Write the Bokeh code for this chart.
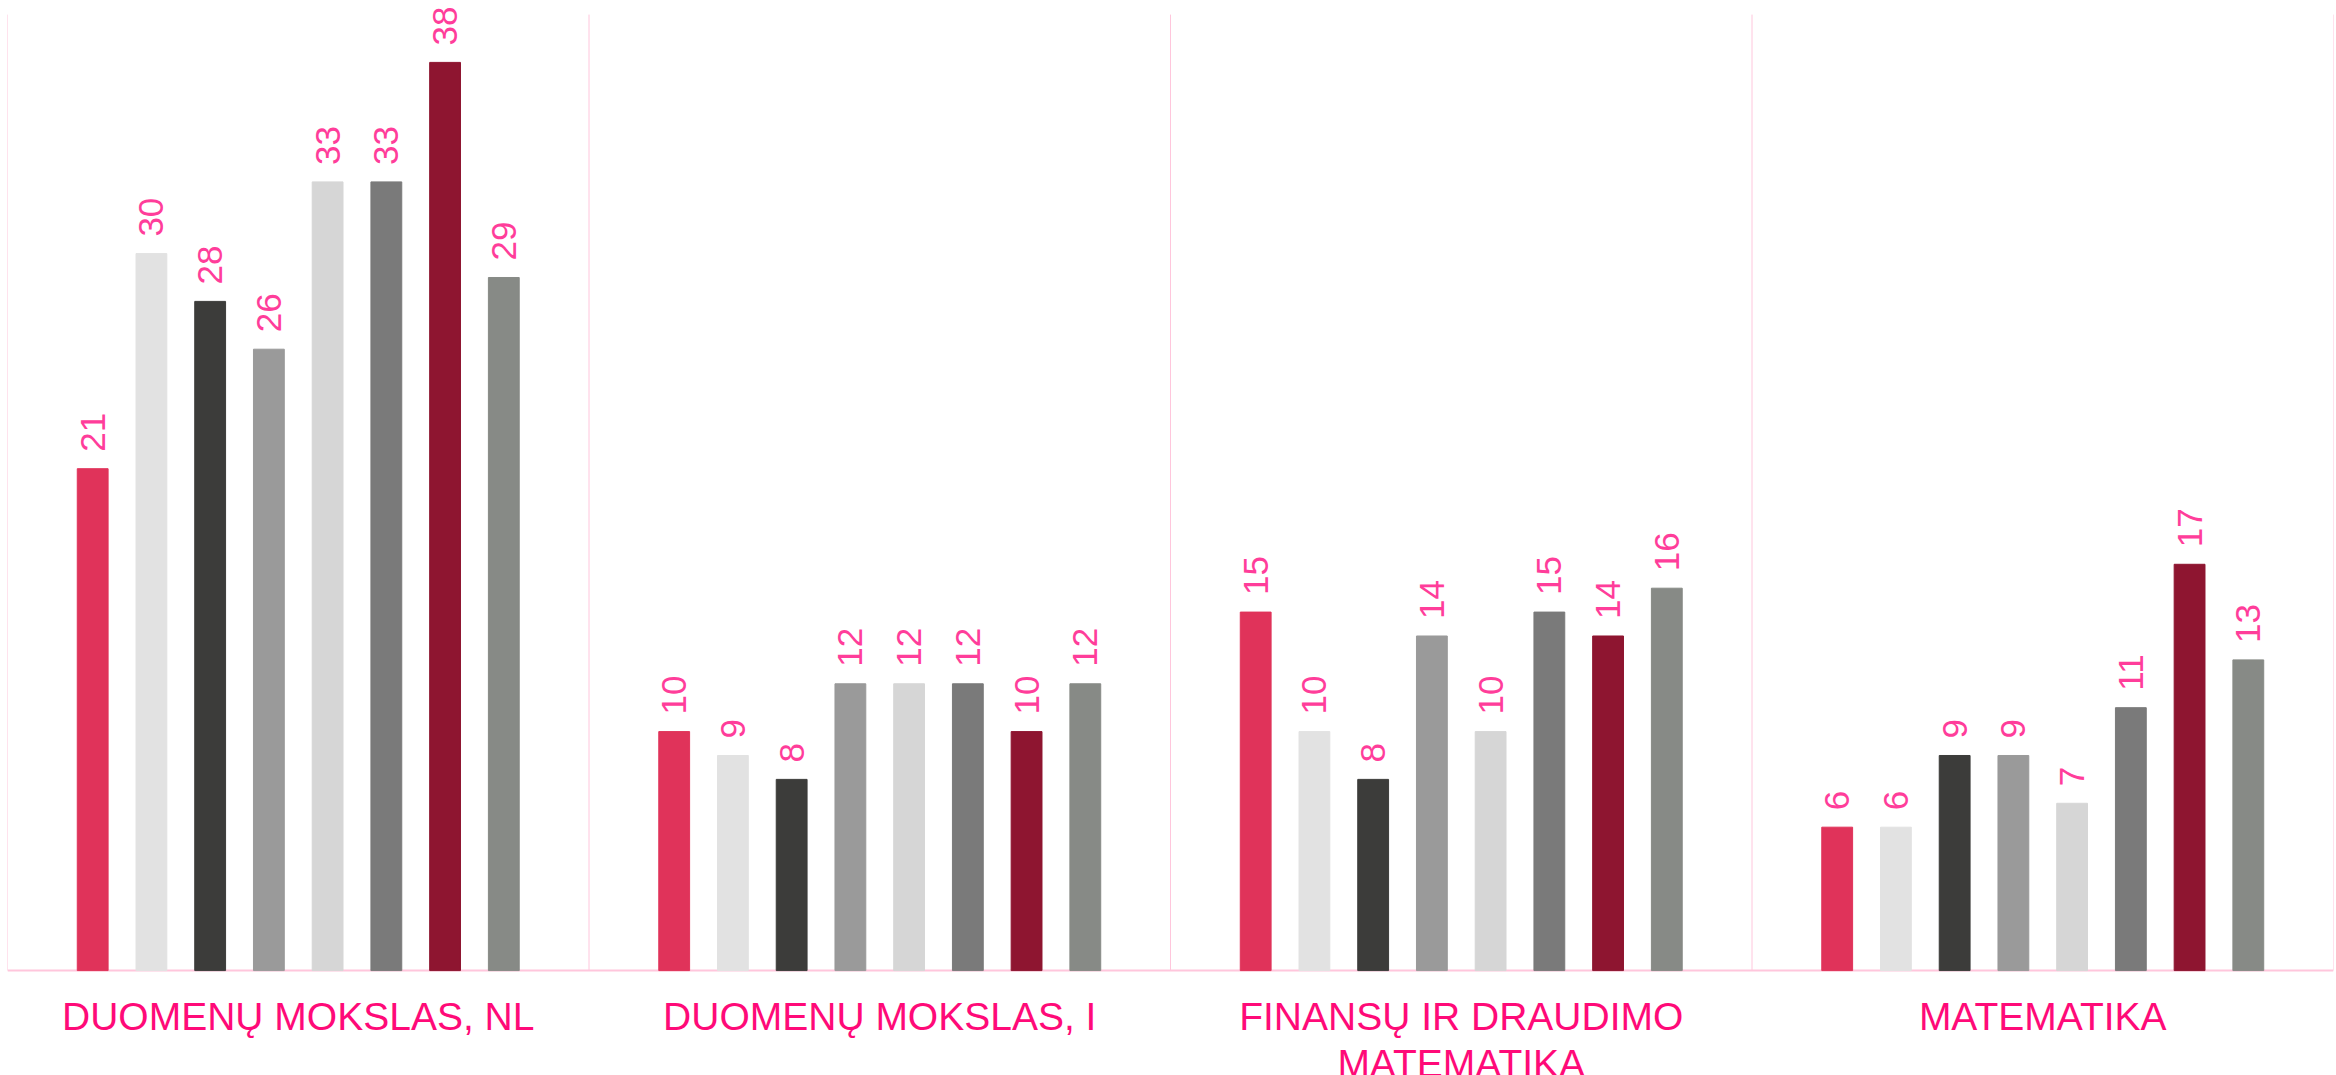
from bokeh.plotting import figure
from bokeh.models import FactorRange, Range1d, ColumnDataSource
from bokeh.transform import dodge
from bokeh.core.properties import value
from bokeh.embed import file_html
from bokeh.resources import INLINE
import math

categories = ["DUOMENŲ MOKSLAS, NL", "DUOMENŲ MOKSLAS, I",
              "FINANSŲ IR DRAUDIMO MATEMATIKA", "MATEMATIKA"]
category_labels = ["DUOMENŲ MOKSLAS, NL", "DUOMENŲ MOKSLAS, I",
                   "FINANSŲ IR DRAUDIMO\nMATEMATIKA", "MATEMATIKA"]

series_1 = [21, 10, 15, 6]
series_2 = [30, 9, 10, 6]
series_3 = [28, 8, 8, 9]
series_4 = [26, 12, 14, 9]
series_5 = [33, 12, 10, 7]
series_6 = [33, 12, 15, 11]
series_7 = [38, 10, 14, 17]
series_8 = [29, 12, 16, 13]
series = [series_1, series_2, series_3, series_4, series_5, series_6, series_7, series_8]
colors = ["#E0335A", "#E2E2E2", "#3C3C3A", "#9A9A9A", "#D6D6D6", "#7A7A7A", "#8E1530", "#878A86"]

FONT = "Liberation Sans"
BORDER = "#FFC6DC"
W, H = 2334, 1075

p = figure(x_range=FactorRange(*categories, range_padding=0), y_range=Range1d(-4.39, 40.59),
           width=W, height=H, output_backend="svg", toolbar_location=None,
           min_border_left=7, min_border_right=1, min_border_top=0, min_border_bottom=0)
p.outline_line_color = None
p.background_fill_color = "white"
p.xgrid.visible = False
p.ygrid.visible = False
p.xaxis.visible = False
p.yaxis.visible = False

# group separators / side borders (synthetic category coordinates) and baseline
p.segment(x0=[0, 1, 2, 3, 4], x1=[0, 1, 2, 3, 4], y0=0, y1=40,
          line_color=BORDER, line_width=1)
p.segment(x0=[0], x1=[4], y0=0, y1=0, line_color=BORDER, line_width=2)

data = {"cat": categories, "label": category_labels}
for i, s in enumerate(series):
    data[f"s{i}"] = s
    data[f"l{i}"] = [str(v) for v in s]
src = ColumnDataSource(data)

step = 0.101
bw = 0.053
for i in range(len(series)):
    off = (i - 3.5) * step
    p.vbar(x=dodge("cat", off, range=p.x_range), top=f"s{i}", width=bw, bottom=0,
           source=src, fill_color=colors[i], line_color=colors[i], line_width=1)
    p.text(x=dodge("cat", off, range=p.x_range), y=f"s{i}", text=f"l{i}", source=src,
           angle=math.pi / 2, text_align="left", text_baseline="middle",
           y_offset=-17, text_font=value(FONT), text_font_size="35px",
           text_color="#FF3D9A")

# category labels under the groups
p.text(x="cat", y=0, text="label", source=src, text_align="center", text_baseline="top",
       y_offset=24, text_font=value(FONT), text_font_size="39px",
       text_color="#FF0A78", text_line_height=1.1)

open("out.html", "w").write(file_html(p, INLINE))
